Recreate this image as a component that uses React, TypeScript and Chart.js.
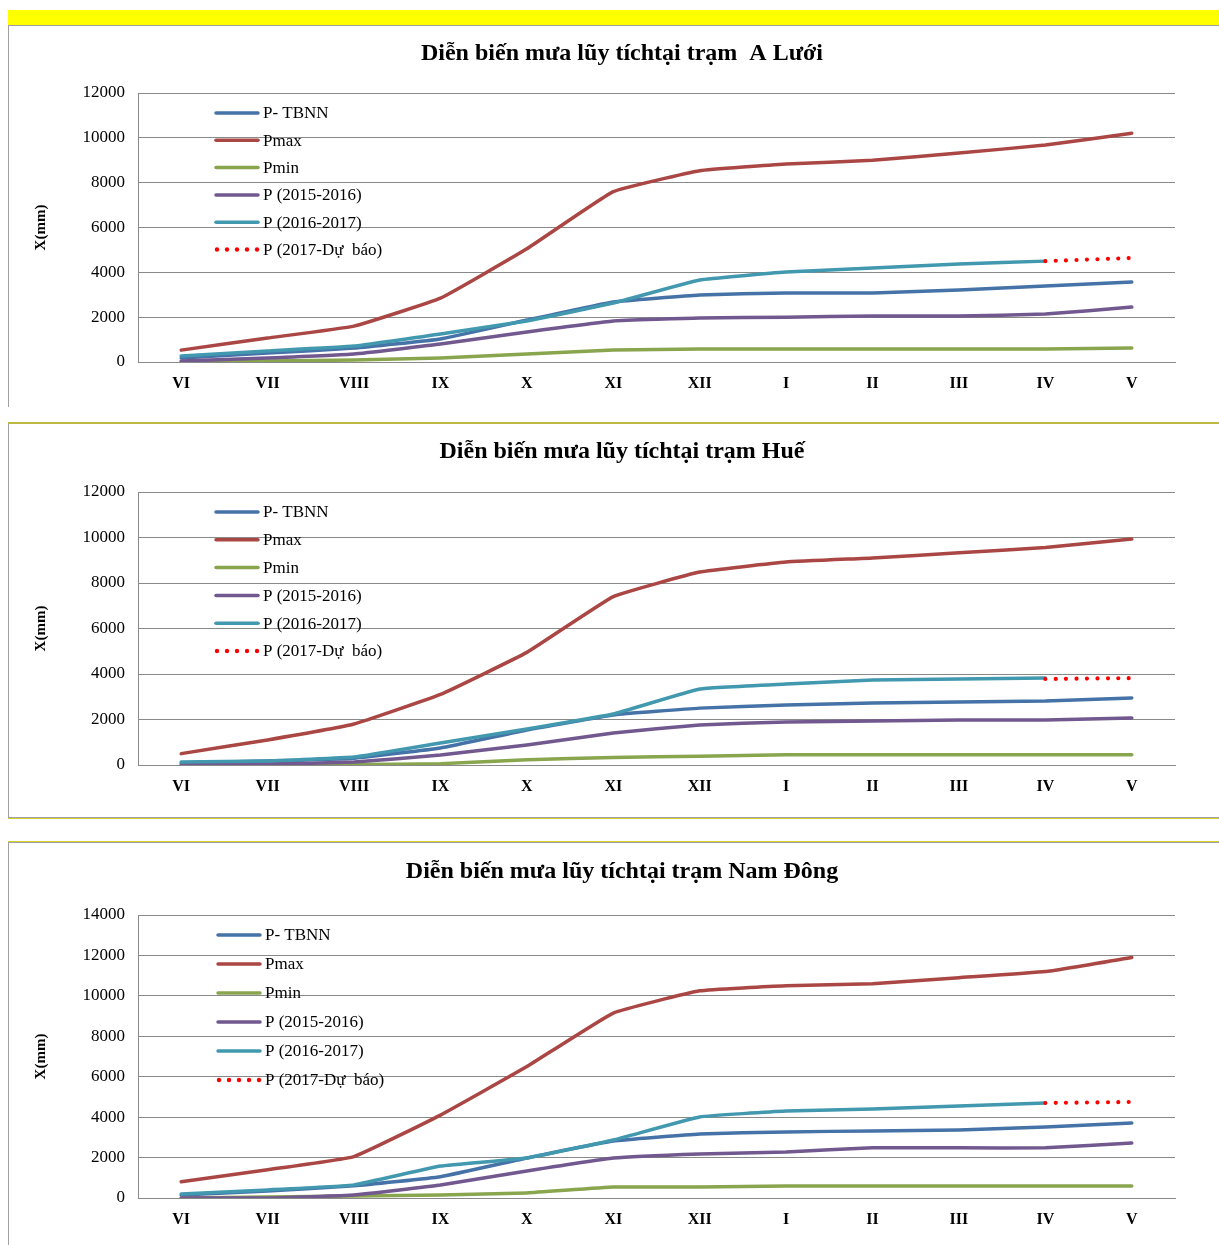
import React, { useEffect, useRef } from "react";
import { Chart, registerables } from "chart.js";

Chart.register(...registerables);

const months = ["VI", "VII", "VIII", "IX", "X", "XI", "XII", "I", "II", "III", "IV", "V"];
const seriesLabels = ["P- TBNN", "Pmax", "Pmin", "P (2015-2016)", "P (2016-2017)", "P (2017-Dự  báo)"];
const seriesColors = ["#4572A7", "#AA4643", "#89A54E", "#71588F", "#4198AF", "#FF0000"];

const titles = [
  "Diễn biến mưa lũy tíchtại trạm  A Lưới",
  "Diễn biến mưa lũy tíchtại trạm Huế",
  "Diễn biến mưa lũy tíchtại trạm Nam Đông",
];

// A Lưới
const aluoiTBNN = [180, 400, 620, 1030, 1870, 2680, 2990, 3080, 3080, 3210, 3390, 3570];
const aluoiPmax = [530, 1070, 1600, 2850, 5050, 7600, 8530, 8830, 9000, 9320, 9680, 10200];
const aluoiPmin = [0, 40, 90, 180, 360, 530, 580, 580, 580, 580, 580, 620];
const aluoi1516 = [40, 180, 360, 800, 1340, 1830, 1960, 2000, 2050, 2050, 2140, 2450];
const aluoi1617 = [270, 490, 710, 1250, 1830, 2630, 3660, 4010, 4190, 4370, 4500, null];
const aluoiFc = [null, null, null, null, null, null, null, null, null, null, 4500, 4640];

// Huế
const hueTBNN = [90, 180, 300, 750, 1540, 2200, 2500, 2640, 2720, 2770, 2810, 2950];
const huePmax = [500, 1100, 1800, 3100, 4950, 7400, 8480, 8920, 9100, 9330, 9560, 9930];
const huePmin = [0, 0, 20, 60, 230, 330, 390, 450, 450, 450, 450, 450];
const hue1516 = [0, 40, 130, 440, 880, 1410, 1760, 1890, 1930, 1980, 1980, 2070];
const hue1617 = [130, 180, 350, 970, 1580, 2240, 3340, 3560, 3740, 3780, 3820, null];
const hueFc = [null, null, null, null, null, null, null, null, null, null, 3780, 3820];

// Nam Đông
const ndTBNN = [150, 350, 600, 1050, 1980, 2820, 3170, 3270, 3320, 3370, 3510, 3710];
const ndPmax = [800, 1400, 2050, 4100, 6500, 9150, 10250, 10500, 10600, 10900, 11200, 11900];
const ndPmin = [0, 50, 100, 150, 250, 540, 540, 590, 590, 590, 590, 590];
const nd1516 = [0, 0, 150, 640, 1340, 1980, 2180, 2280, 2480, 2480, 2480, 2720];
const nd1617 = [200, 400, 650, 1580, 1980, 2870, 4010, 4300, 4400, 4550, 4700, null];
const ndFc = [null, null, null, null, null, null, null, null, null, null, 4700, 4750];

const yMaxes = [12000, 12000, 14000];

const SERIF = "'Liberation Serif', 'DejaVu Serif', serif";

const overlayPlugin = {
  id: "overlay",
  afterDatasetsDraw(chart: any, _args: any, opts: any) {
    const ctx = chart.ctx;
    ctx.save();
    // title
    ctx.fillStyle = "#000";
    ctx.font = `bold 24px ${SERIF}`;
    ctx.textAlign = "center";
    ctx.textBaseline = "middle";
    ctx.fillText(opts.title, opts.titleX, opts.titleY);
    // legend
    ctx.font = `17px ${SERIF}`;
    ctx.textAlign = "left";
    chart.data.datasets.forEach((ds: any, i: number) => {
      const y = opts.legendY + i * opts.legendGap;
      const x0 = opts.legendX;
      if (ds.borderDash && ds.borderDash.length) {
        ctx.fillStyle = ds.borderColor;
        for (let k = 0; k < 5; k++) {
          ctx.beginPath();
          ctx.arc(x0 + 2 + k * 10, y, 2.2, 0, Math.PI * 2);
          ctx.fill();
        }
      } else {
        ctx.strokeStyle = ds.borderColor;
        ctx.lineWidth = 3.5;
        ctx.lineCap = "round";
        ctx.beginPath();
        ctx.moveTo(x0 + 1, y);
        ctx.lineTo(x0 + 43, y);
        ctx.stroke();
      }
      ctx.fillStyle = "#000";
      ctx.fillText(ds.label, x0 + 48, y + 1);
    });
    ctx.restore();
  },
};

type Layout = {
  top: number;
  height: number;
  padTop: number;
  axisH: number;
  titleY: number;
  legendX: number;
  legendY: number;
  legendGap: number;
};

const layouts: Layout[] = [
  { top: 27, height: 380, padTop: 66, axisH: 45, titleY: 27, legendX: 206, legendY: 86, legendGap: 27.3 },
  { top: 424, height: 394, padTop: 68, axisH: 53, titleY: 28, legendX: 206, legendY: 88, legendGap: 27.8 },
  { top: 843, height: 402, padTop: 72, axisH: 47, titleY: 29, legendX: 208, legendY: 92, legendGap: 29 },
];

const stationData = [
  [aluoiTBNN, aluoiPmax, aluoiPmin, aluoi1516, aluoi1617, aluoiFc],
  [hueTBNN, huePmax, huePmin, hue1516, hue1617, hueFc],
  [ndTBNN, ndPmax, ndPmin, nd1516, nd1617, ndFc],
];

function LineChart({ idx }: { idx: number }) {
  const ref = useRef<HTMLCanvasElement>(null);
  useEffect(() => {
    if (!ref.current) return;
    const L = layouts[idx];
    const series = stationData[idx];
    const chart = new Chart(ref.current, {
      type: "line",
      data: {
        labels: months,
        datasets: series.map((d, i) => {
          const isFc = i === 5;
          return {
            label: seriesLabels[i],
            data: d,
            borderColor: seriesColors[i],
            backgroundColor: seriesColors[i],
            borderWidth: isFc ? 4.2 : 3.5,
            borderDash: isFc ? [0, 10.4] : [],
            borderCapStyle: "round",
            borderJoinStyle: "round",
            pointRadius: 0,
            tension: 0.1,
            fill: false,
            spanGaps: false,
            order: 6 - i,
          } as any;
        }),
      },
      options: {
        animation: false,
        responsive: true,
        maintainAspectRatio: false,
        layout: { padding: { left: 23, right: 44, top: L.padTop, bottom: 0 } },
        plugins: {
          legend: { display: false },
          title: { display: false },
          tooltip: { enabled: false },
          overlay: {
            title: titles[idx],
            titleX: 613,
            titleY: L.titleY,
            legendX: L.legendX,
            legendY: L.legendY,
            legendGap: L.legendGap,
          },
        } as any,
        scales: {
          x: {
            offset: true,
            grid: { display: false, drawTicks: false },
            border: { display: true, color: "#898989", width: 1 },
            ticks: {
              color: "#000",
              font: { family: SERIF, size: 16, weight: "bold" },
              padding: 12,
              maxRotation: 0,
              autoSkip: false,
            },
            afterFit(scale: any) {
              scale.height = L.axisH;
            },
          },
          y: {
            min: 0,
            max: yMaxes[idx],
            grid: { color: "#898989", lineWidth: 1, drawTicks: false },
            border: { display: true, color: "#898989", width: 1 },
            ticks: {
              stepSize: 2000,
              color: "#000",
              font: { family: SERIF, size: 17 },
              padding: 13,
              callback: (v: any) => String(v),
            },
            title: {
              display: true,
              text: "X(mm)",
              color: "#000",
              font: { family: SERIF, size: 15, weight: "bold" },
              padding: 0,
            },
            afterFit(scale: any) {
              scale.width = 106;
            },
          },
        },
      },
      plugins: [overlayPlugin],
    });
    return () => chart.destroy();
  }, [idx]);
  const L = layouts[idx];
  return (
    <div style={{ position: "absolute", left: 9, top: L.top, width: 1210, height: L.height }}>
      <canvas ref={ref} />
    </div>
  );
}

export default function App() {
  useEffect(() => {
    document.body.style.margin = "0";
    document.body.style.overflow = "hidden";
  }, []);
  const abs = (s: React.CSSProperties): React.CSSProperties => ({ position: "absolute", ...s });
  return (
    <div style={{ position: "relative", width: 1219, height: 1245, background: "#fff", overflow: "hidden" }}>
      <div style={abs({ left: 8, top: 10, width: 1211, height: 15, background: "#FFFF00" })} />
      <div style={abs({ left: 8, top: 25, width: 1211, height: 1, background: "#A0A0A0" })} />
      <div style={abs({ left: 8, top: 26, width: 1, height: 381, background: "#A0A0A0" })} />
      <div style={abs({ left: 8, top: 422, width: 1211, height: 2, background: "#BDB840" })} />
      <div style={abs({ left: 8, top: 424, width: 1, height: 394, background: "#A0A0A0" })} />
      <div style={abs({ left: 8, top: 817, width: 1211, height: 1, background: "#A0A0A0" })} />
      <div style={abs({ left: 8, top: 818, width: 1211, height: 1, background: "#D4D030" })} />
      <div style={abs({ left: 8, top: 841, width: 1211, height: 1, background: "#D4D030" })} />
      <div style={abs({ left: 8, top: 842, width: 1211, height: 1, background: "#A0A0A0" })} />
      <div style={abs({ left: 8, top: 843, width: 1, height: 402, background: "#A0A0A0" })} />
      <LineChart idx={0} />
      <LineChart idx={1} />
      <LineChart idx={2} />
    </div>
  );
}
